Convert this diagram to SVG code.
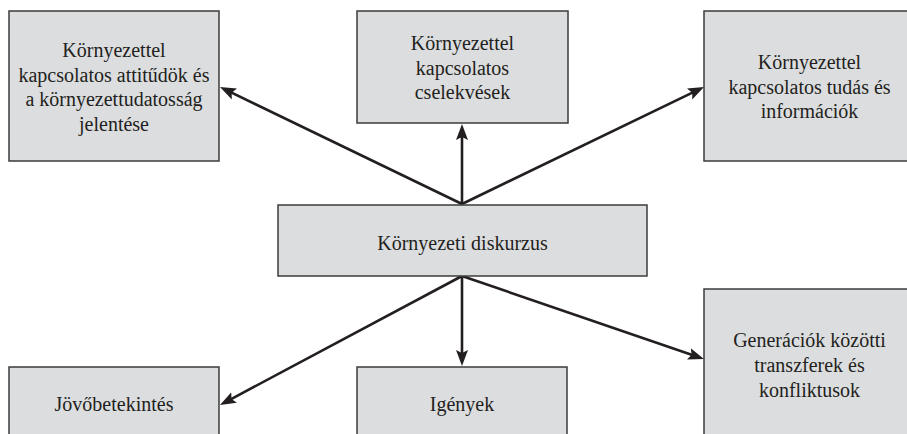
<svg xmlns="http://www.w3.org/2000/svg" width="907" height="434" viewBox="0 0 907 434">
<style>
.box{fill:#dcdddf;stroke:#3d3b3c;stroke-width:1.5}
.t{font-family:'Times New Roman','Liberation Serif','Noto Serif','DejaVu Serif',serif;font-size:20px;fill:#231f20;text-anchor:middle}
.c{stroke:#231f20;stroke-width:2.6;fill:none;marker-end:url(#ah)}
</style>
<defs>
<marker id="ah" markerUnits="userSpaceOnUse" markerWidth="17" markerHeight="14" refX="6" refY="7" orient="auto" viewBox="0 0 17 14">
<path d="M0,1 L16,7 L0,13 L3,7 z" fill="#231f20"/>
</marker>
</defs>
<rect width="907" height="434" fill="#ffffff"/>
<g id="connectors">
<line class="c" x1="462" y1="204" x2="229" y2="91.4"/>
<line class="c" x1="462" y1="204" x2="462" y2="134"/>
<line class="c" x1="462" y1="204" x2="695" y2="91.4"/>
<line class="c" x1="462" y1="276" x2="228.8" y2="400.3"/>
<line class="c" x1="462" y1="276" x2="462" y2="356"/>
<line class="c" x1="462" y1="276" x2="694.5" y2="355.8"/>
</g>
<g id="n-attitudok">
<rect class="box" x="9" y="11" width="210" height="150"/>
<text class="t" x="114" y="57">Környezettel</text>
<text class="t" x="114" y="81.5">kapcsolatos attitűdök és</text>
<text class="t" x="114" y="106">a környezettudatosság</text>
<text class="t" x="114" y="130.5">jelentése</text>
</g>
<g id="n-cselekvesek">
<rect class="box" x="357" y="11" width="211" height="112"/>
<text class="t" x="462.5" y="50">Környezettel</text>
<text class="t" x="462.5" y="74.5">kapcsolatos</text>
<text class="t" x="462.5" y="99">cselekvések</text>
</g>
<g id="n-tudas">
<rect class="box" x="704" y="11" width="211" height="150"/>
<text class="t" x="809.5" y="69">Környezettel</text>
<text class="t" x="809.5" y="93.5">kapcsolatos tudás és</text>
<text class="t" x="809.5" y="118">információk</text>
</g>
<g id="n-diskurzus">
<rect class="box" x="278" y="205" width="369" height="71"/>
<text class="t" x="462.5" y="250">Környezeti diskurzus</text>
</g>
<g id="n-jovobetekintes">
<rect class="box" x="9" y="367" width="210" height="80"/>
<text class="t" x="114" y="410.5">Jövőbetekintés</text>
</g>
<g id="n-igenyek">
<rect class="box" x="357" y="367" width="210" height="80"/>
<text class="t" x="462" y="410.5">Igények</text>
</g>
<g id="n-generaciok">
<rect class="box" x="704" y="289" width="211" height="160"/>
<text class="t" x="809.5" y="346.5">Generációk közötti</text>
<text class="t" x="809.5" y="371.5">transzferek és</text>
<text class="t" x="809.5" y="396.5">konfliktusok</text>
</g>
</svg>
